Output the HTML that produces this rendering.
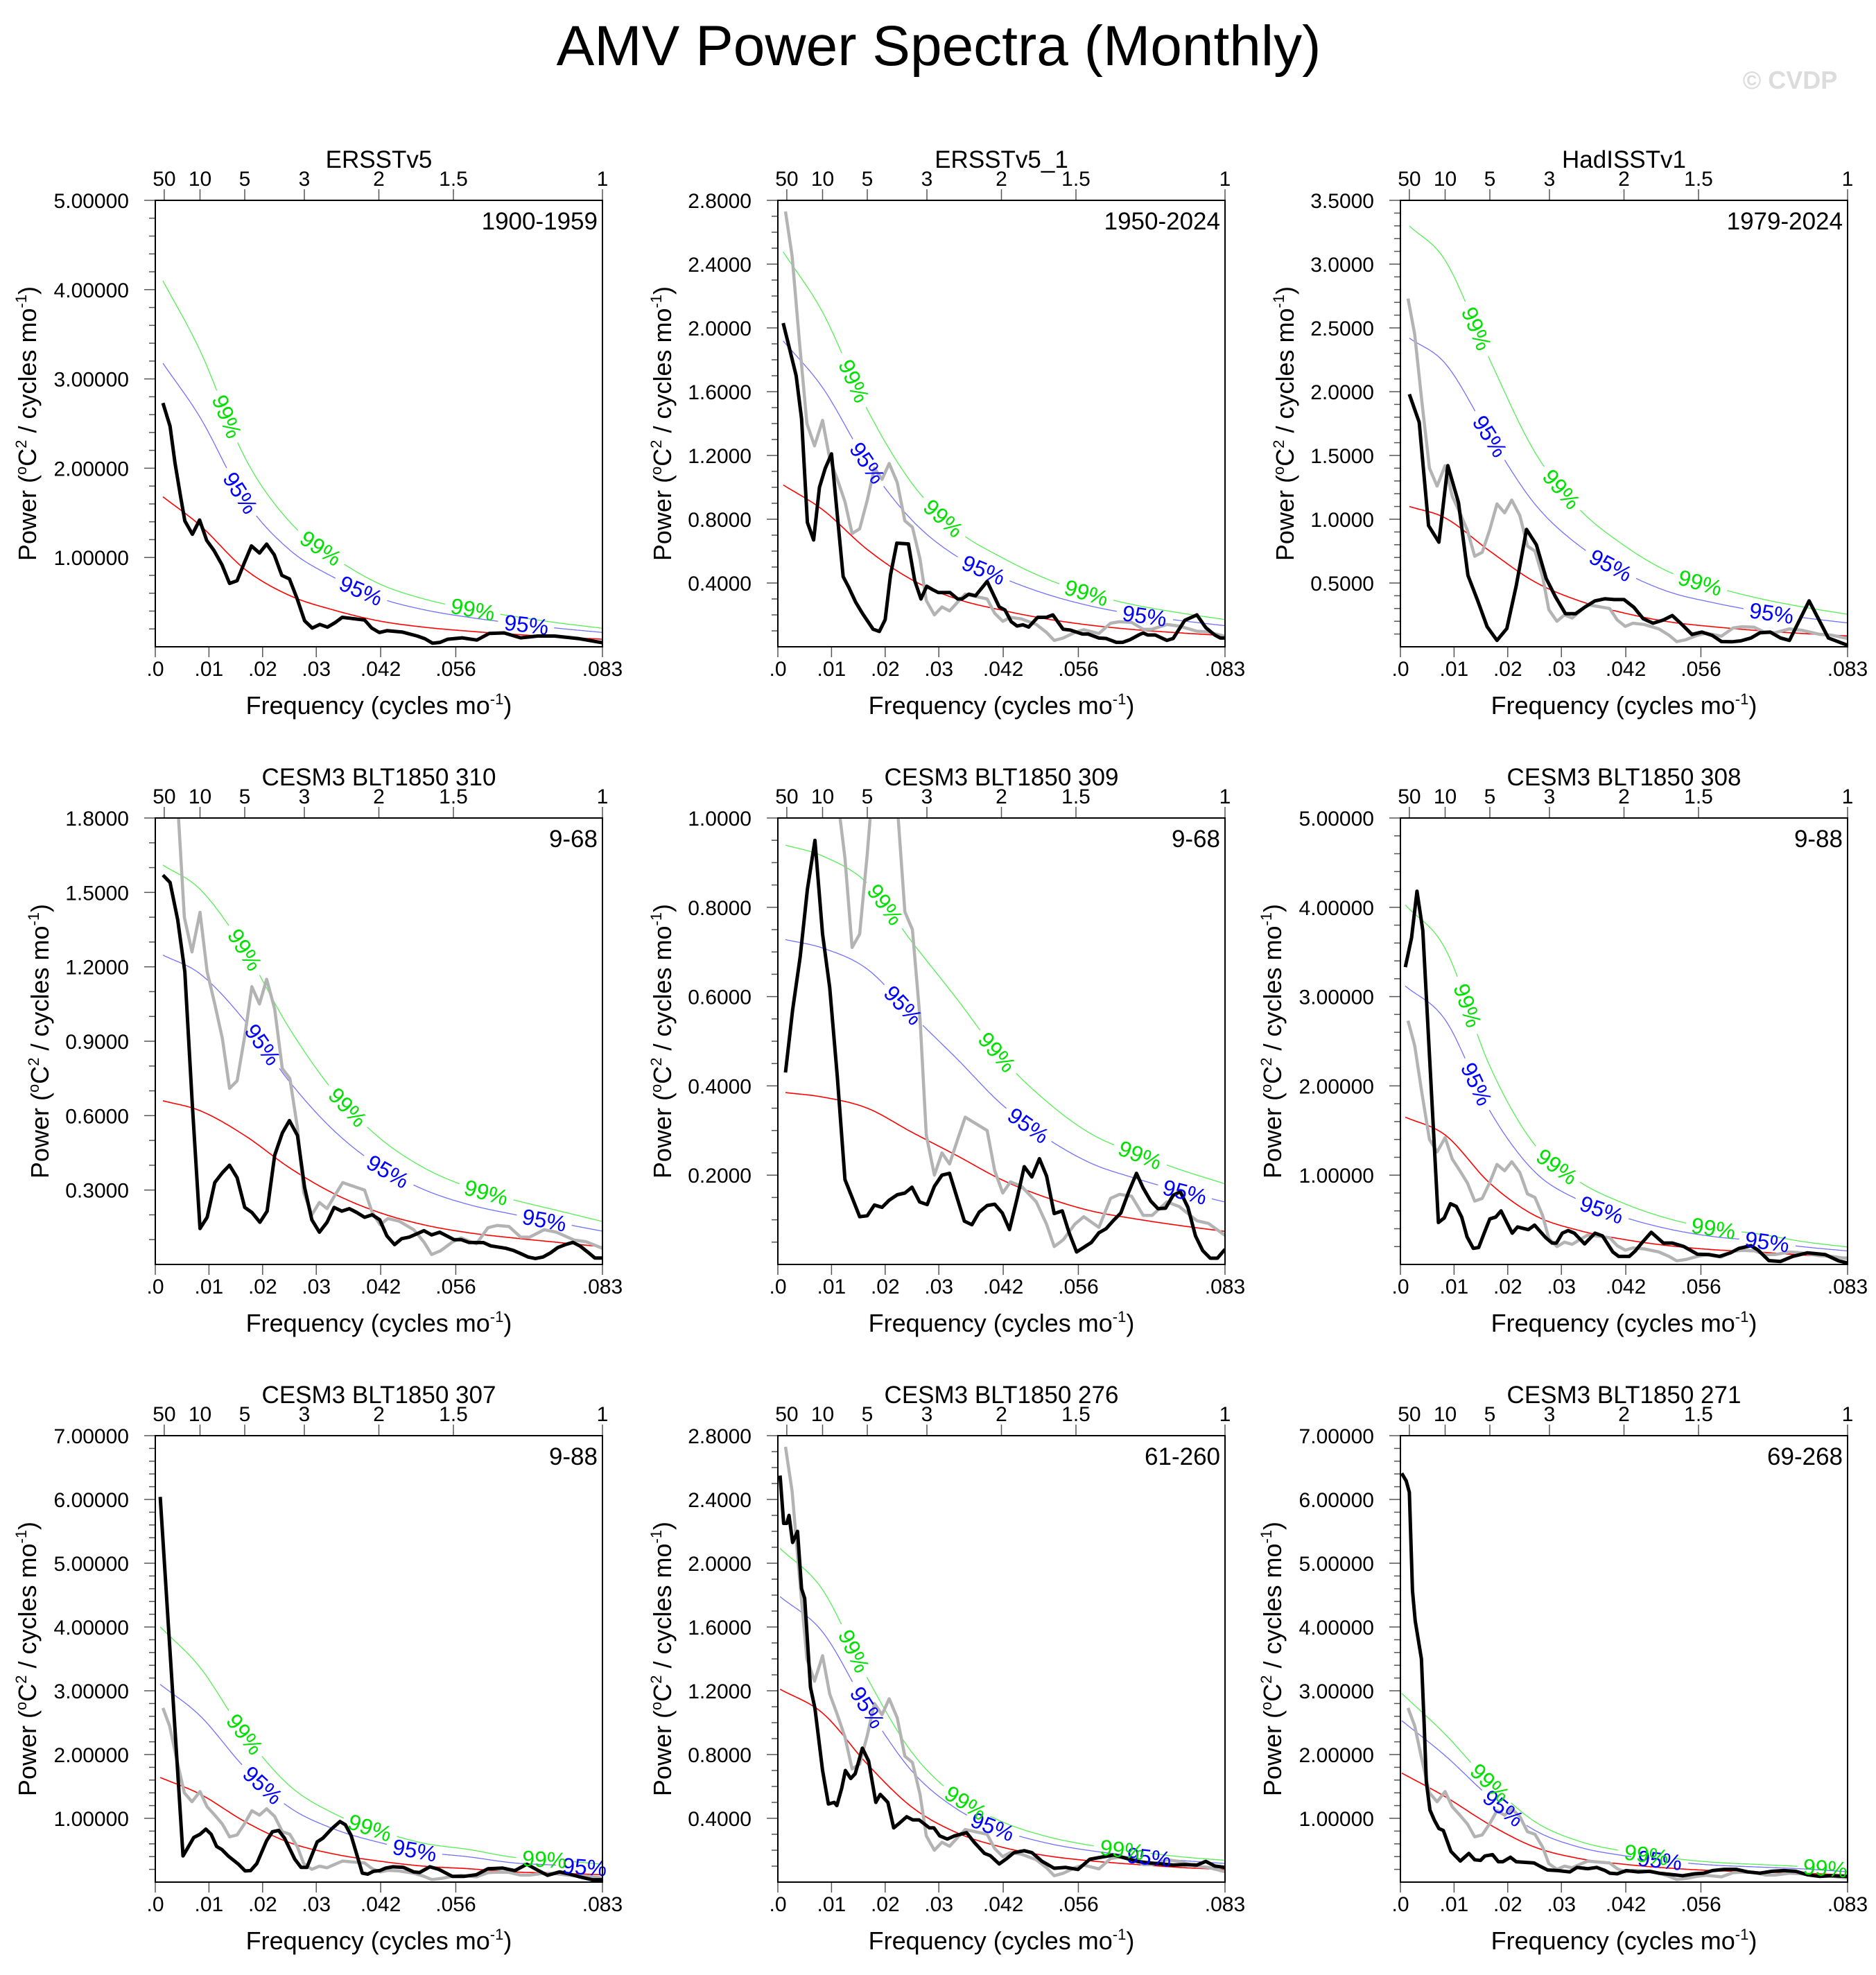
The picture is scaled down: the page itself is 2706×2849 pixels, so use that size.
<!DOCTYPE html>
<html><head><meta charset="utf-8"><title>AMV Power Spectra (Monthly)</title>
<style>
html,body{margin:0;padding:0;background:#fff;}
svg{display:block;font-family:"Liberation Sans",Arial,sans-serif;}
</style></head>
<body>
<svg id="chart" width="2706" height="2849" viewBox="0 0 2706 2849" xmlns="http://www.w3.org/2000/svg">
<rect x="0" y="0" width="2706" height="2849" fill="#fff"/>
<text x="1354" y="94" font-size="82" text-anchor="middle" fill="#000">AMV Power Spectra (Monthly)</text>
<text x="2582" y="128" font-size="36" font-weight="bold" text-anchor="middle" fill="#dcdcdc">© CVDP</text>
</svg>
<script>
// ---- Data (frequency in cycles per year: 0..1 == 0..0.0833 cycles/mo) ----
const panelTitles = ["ERSSTv5","ERSSTv5_1","HadISSTv1","CESM3 BLT1850 310","CESM3 BLT1850 309","CESM3 BLT1850 308","CESM3 BLT1850 307","CESM3 BLT1850 276","CESM3 BLT1850 271"];
const panelPeriods = ["1900-1959","1950-2024","1979-2024","9-68","9-68","9-88","9-88","61-260","69-268"];
const yMaxes = [5,2.8,3.5,1.8,1.0,5,7,2.8,7];
const yMajorSteps = [1,0.4,0.5,0.3,0.2,1,1,0.4,1];
const yMinorSteps = [0.2,0.1,0.1,0.1,0.05,0.2,0.2,0.1,0.2];
const yDecimals = [5,4,4,4,4,5,5,4,5];
const factor95 = [1.89,1.89,2.2,1.89,1.89,1.89,1.89,1.48,1.48];
const factor99 = [2.44,2.44,3.0,2.44,2.44,2.44,2.44,1.73,1.73];
const xTickValues = [0,0.01,0.02,0.03,0.042,0.056,0.08333];
const xTickLabels = [".0",".01",".02",".03",".042",".056",".083"];
const periodTicks = [50,10,5,3,2,1.5,1];

const grayF = [.017,.032,.048,.065,.082,.1,.116,.133,.15,.166,.183,.2,.216,.233,.249,.267,.284,.301,.318,.332,.35,.367,.384,.402,.419,.435,.468,.485,.503,.52,.545,.578,.601,.618,.638,.664,.684,.718,.744,.764,.791,.817,.837,.87,.897,.937,.963,1];
const grayV = [2.73,2.45,1.92,1.40,1.26,1.42,1.18,1.05,0.91,0.71,0.74,0.92,1.12,1.05,1.15,1.03,0.79,0.75,0.55,0.29,0.20,0.25,0.225,0.28,0.33,0.32,0.30,0.21,0.16,0.185,0.175,0.14,0.09,0.04,0.055,0.09,0.107,0.083,0.148,0.157,0.153,0.11,0.11,0.14,0.13,0.098,0.092,0.065];

const blackF1 = [.017,.033,.044,.056,.066,.083,.099,.115,.131,.149,.166,.183,.199,.215,.233,.249,.266,.283,.3,.317,.334,.351,.368,.385,.402,.418,.435,.468,.484,.501,.518,.552,.586,.603,.62,.637,.654,.686,.719,.747,.78,.817,.855,.893,.949,1];
const blackV1 = [2.73,2.47,2.06,1.70,1.41,1.26,1.42,1.19,1.08,0.92,0.71,0.74,0.94,1.13,1.05,1.15,1.03,0.80,0.76,0.54,0.29,0.21,0.25,0.22,0.27,0.33,0.32,0.30,0.21,0.16,0.18,0.165,0.12,0.09,0.04,0.05,0.085,0.10,0.075,0.15,0.155,0.10,0.12,0.12,0.09,0.045];
const blackF2 = [.012,.027,.041,.053,.066,.08,.093,.106,.12,.146,.159,.174,.189,.213,.227,.24,.252,.266,.292,.306,.32,.333,.345,.359,.385,.402,.412,.427,.442,.468,.495,.508,.522,.535,.548,.561,.581,.601,.615,.638,.654,.681,.694,.718,.734,.757,.771,.787,.807,.817,.827,.844,.87,.884,.91,.937,.957,.977,.99,1];
const blackV2 = [2.03,1.86,1.70,1.43,0.78,0.67,1.0,1.12,1.21,0.44,0.37,0.28,0.21,0.11,0.096,0.17,0.45,0.65,0.645,0.415,0.30,0.38,0.36,0.34,0.34,0.30,0.30,0.33,0.32,0.41,0.25,0.23,0.157,0.13,0.138,0.124,0.185,0.185,0.20,0.11,0.105,0.08,0.08,0.055,0.052,0.028,0.028,0.044,0.074,0.087,0.074,0.074,0.04,0.052,0.166,0.20,0.12,0.074,0.055,0.055];
const blackF3 = [.02,.042,.063,.086,.106,.13,.151,.173,.194,.216,.238,.259,.282,.304,.326,.347,.369,.392,.412,.435,.457,.478,.5,.522,.543,.565,.588,.608,.631,.652,.674,.698,.718,.741,.761,.784,.804,.827,.85,.87,.914,.957,1];
const blackV3 = [1.98,1.76,.95,.82,1.42,1.13,.56,.36,.157,.05,.143,.48,.92,.80,.535,.39,.26,.26,.31,.36,.376,.37,.37,.31,.22,.185,.21,.245,.17,.097,.115,.088,.041,.039,.046,.069,.11,.115,.069,.05,.36,.069,.012];
const blackF4 = [.017,.033,.05,.066,.083,.1,.116,.133,.15,.166,.183,.2,.216,.234,.25,.267,.284,.3,.318,.334,.35,.367,.384,.4,.417,.434,.45,.468,.485,.502,.518,.535,.551,.568,.601,.618,.636,.668,.684,.701,.734,.75,.784,.8,.817,.834,.85,.867,.884,.9,.917,.934,.95,.967,.983,1];
const blackV4 = [1.57,1.54,1.39,1.18,0.64,0.145,0.19,0.33,0.37,0.40,.35,.23,.21,.17,.215,.44,.53,.58,.52,.31,.18,.13,.17,.23,.215,.225,.21,.19,.2,.18,.115,.08,.104,.11,.136,.119,.13,.1,.1,.089,.088,.075,.065,.057,.044,.03,.024,.03,.047,.068,.08,.089,.074,.05,.026,.026];
const blackF5 = [.017,.033,.05,.066,.083,.1,.116,.133,.15,.166,.183,.2,.216,.233,.249,.267,.284,.3,.317,.334,.35,.367,.384,.4,.417,.434,.45,.468,.485,.502,.518,.535,.551,.568,.585,.601,.618,.636,.651,.668,.701,.718,.734,.751,.767,.784,.802,.817,.834,.85,.867,.884,.9,.917,.934,.95,.967,.983,1];
const blackV5 = [.43,.57,.69,.84,.95,.74,.62,.42,.19,.15,.107,.109,.133,.128,.144,.156,.16,.173,.14,.134,.175,.2,.204,.152,.097,.089,.117,.132,.135,.115,.078,.148,.219,.196,.237,.198,.114,.12,.072,.028,.049,.071,.08,.099,.115,.161,.204,.171,.142,.125,.126,.155,.163,.128,.064,.031,.014,.014,.034];
const blackF6 = [.011,.025,.037,.05,.085,.098,.112,.125,.137,.149,.163,.175,.188,.2,.213,.225,.238,.25,.262,.286,.3,.325,.339,.349,.362,.375,.389,.412,.435,.452,.475,.488,.512,.525,.538,.561,.588,.608,.634,.664,.691,.714,.738,.757,.784,.8,.824,.85,.877,.91,.95,.98,1];
const blackV6 = [3.33,3.66,4.18,3.74,.47,.52,.68,.65,.53,.31,.18,.19,.36,.51,.53,.6,.47,.35,.42,.39,.44,.30,.24,.24,.35,.38,.35,.23,.35,.32,.14,.09,.09,.15,.23,.36,.24,.24,.2,.115,.11,.09,.13,.18,.21,.16,.043,.033,.09,.13,.11,.04,.016];
const blackF7 = [.011,.062,.086,.1,.113,.125,.137,.149,.163,.186,.201,.213,.227,.249,.262,.276,.289,.312,.326,.339,.362,.375,.395,.413,.425,.438,.463,.475,.488,.502,.515,.531,.555,.578,.591,.614,.634,.664,.691,.718,.744,.777,.804,.831,.857,.877,.904,.924,.95,.977,1];
const blackV7 = [6.04,.41,.70,.75,.83,.75,.56,.51,.41,.28,.175,.18,.29,.65,.79,.81,.69,.36,.23,.23,.63,.69,.84,.95,.90,.73,.14,.125,.17,.18,.22,.24,.23,.16,.15,.24,.2,.09,.09,.115,.21,.22,.18,.28,.18,.106,.16,.13,.08,.037,.037];
const blackF8 = [.005,.013,.02,.025,.033,.044,.053,.06,.073,.083,.1,.113,.126,.132,.143,.151,.163,.173,.179,.189,.203,.219,.229,.246,.259,.272,.288,.302,.316,.339,.349,.362,.379,.395,.422,.439,.462,.475,.495,.512,.528,.551,.568,.591,.618,.644,.671,.698,.724,.751,.777,.804,.831,.857,.884,.91,.937,.957,.977,1];
const blackV8 = [2.55,2.25,2.25,2.30,2.13,2.2,1.84,1.78,1.22,1.09,.70,.49,.50,.48,.59,.70,.65,.68,.74,.84,.76,.50,.55,.50,.34,.37,.41,.39,.39,.34,.34,.29,.27,.29,.31,.25,.18,.166,.114,.148,.185,.197,.185,.13,.087,.092,.079,.144,.157,.17,.151,.13,.12,.114,.107,.11,.107,.13,.101,.092];
const blackF9 = [.003,.013,.02,.027,.033,.047,.053,.058,.066,.076,.086,.096,.113,.134,.153,.166,.179,.189,.206,.219,.229,.246,.259,.279,.299,.312,.329,.352,.379,.395,.419,.439,.458,.468,.485,.505,.532,.558,.578,.605,.631,.658,.678,.698,.724,.751,.777,.804,.831,.857,.884,.91,.937,.963,1];
const blackV9 = [6.41,6.29,6.11,4.57,4.10,3.50,2.49,1.57,1.13,.97,.84,.81,.48,.33,.45,.35,.34,.41,.43,.32,.32,.39,.32,.31,.30,.25,.19,.18,.16,.23,.21,.23,.18,.14,.13,.18,.16,.17,.14,.12,.10,.13,.14,.18,.2,.2,.16,.14,.17,.18,.17,.115,.09,.1,.09];

const redStartF = [.017,.012,.02,.017,.017,.011,.011,.005,.003];
const redGridF = [.1,.2,.3,.4,.5,.6,.7,.8,.9,1];
const redV1 = [1.68,1.36,0.87,0.575,0.41,0.29,0.22,0.175,0.14,0.11,0.085];
const redV2 = [1.015,0.86,0.61,0.42,0.30,0.23,0.175,0.135,0.107,0.087,0.07];
const redV3 = [1.10,1.01,0.75,0.51,0.36,0.265,0.196,0.157,0.127,0.104,0.085];
const redV4 = [0.66,0.62,0.52,0.39,0.285,0.21,0.16,0.128,0.107,0.089,0.071];
const redV5 = [0.385,0.375,0.35,0.296,0.244,0.19,0.15,0.12,0.102,0.087,0.074];
const redV6 = [1.65,1.45,0.91,0.55,0.38,0.28,0.21,0.165,0.14,0.105,0.08];
const redV7 = [1.64,1.38,0.95,0.62,0.44,0.33,0.25,0.21,0.16,0.14,0.115];
const redV8 = [1.21,1.06,0.74,0.47,0.31,0.22,0.166,0.133,0.111,0.092,0.079];
const redV9 = [1.71,1.34,0.90,0.55,0.37,0.28,0.22,0.18,0.16,0.14,0.11];

const blackFs = [blackF1,blackF2,blackF3,blackF4,blackF5,blackF6,blackF7,blackF8,blackF9];
const blackVs = [blackV1,blackV2,blackV3,blackV4,blackV5,blackV6,blackV7,blackV8,blackV9];
const redVs = [redV1,redV2,redV3,redV4,redV5,redV6,redV7,redV8,redV9];

const lab99 = [[.16,.37,.71],[.17,.37,.69],[.17,.36,.67],[.2,.43,.74],[.24,.49,.81],[.15,.35,.7],[.2,.48,.87],[.17,.42,.77],[.2,.55,.95]];
const lab95 = [[.19,.46,.83],[.2,.46,.82],[.2,.47,.83],[.24,.52,.87],[.28,.56,.91],[.17,.45,.82],[.24,.58,.96],[.2,.48,.83],[.23,.58]];

const NS = "http://www.w3.org/2000/svg";
const svg = document.getElementById("chart");
const colLeft = [224,1122,2020];
const rowTop = [289,1180,2071];
const PW = 645, PH = 644;

function el(tag, attrs, parent){
  const e = document.createElementNS(NS, tag);
  for (const k in attrs) e.setAttribute(k, attrs[k]);
  (parent||svg).appendChild(e);
  return e;
}

function monotone(xs, ys){
  const n = xs.length, d = [], m = [];
  for (let i=0;i<n-1;i++) d.push((ys[i+1]-ys[i])/(xs[i+1]-xs[i]));
  m.push(d[0]);
  for (let i=1;i<n-1;i++) m.push(d[i-1]*d[i]<=0 ? 0 : (d[i-1]+d[i])/2);
  m.push(d[n-2]);
  for (let i=0;i<n-1;i++){
    if (d[i]===0){ m[i]=0; m[i+1]=0; continue; }
    const a=m[i]/d[i], b=m[i+1]/d[i], s=a*a+b*b;
    if (s>9){ const t=3/Math.sqrt(s); m[i]=t*a*d[i]; m[i+1]=t*b*d[i]; }
  }
  return function(x){
    if (x<=xs[0]) return ys[0];
    if (x>=xs[n-1]) return ys[n-1];
    let i=0; while (x>xs[i+1]) i++;
    const h=xs[i+1]-xs[i], t=(x-xs[i])/h, t2=t*t, t3=t2*t;
    return (2*t3-3*t2+1)*ys[i]+(t3-2*t2+t)*h*m[i]+(-2*t3+3*t2)*ys[i+1]+(t3-t2)*h*m[i+1];
  };
}

for (let p=0;p<9;p++){
  const L = colLeft[p%3], T = rowTop[Math.floor(p/3)];
  const ymax = yMaxes[p];
  const xS = f => L + f*PW;
  const yS = v => T + PH - v/ymax*PH;
  const g = el("g", {});
  
  

  const cid = "clip"+p;
  const cp = el("clipPath", {id:cid}, g);
  el("rect", {x:L, y:T, width:PW, height:PH}, cp);

  const tt = el("text", {x:L+PW/2, y:T-47, "font-size":35, "text-anchor":"middle", fill:"#000"}, g);
  
  
  tt.textContent = panelTitles[p];
  const pr = el("text", {x:L+PW-7, y:T+42, "font-size":35, "text-anchor":"end", fill:"#000"}, g);
  
  
  pr.textContent = panelPeriods[p];

  const minorN = Math.round(ymax / yMinorSteps[p]);
  for (let i=1;i<=minorN;i++){
    const v = i*yMinorSteps[p], y = yS(v);
    const major = Math.abs(v/yMajorSteps[p] - Math.round(v/yMajorSteps[p])) < 1e-6;
    el("line", {x1:L-(major?16:9), y1:y, x2:L, y2:y, stroke:"#555", "stroke-width":1.5}, g);
    if (major){
      const t = el("text", {x:L-38, y:y+11, "font-size":30, "text-anchor":"end", fill:"#000"}, g);
      
      
      t.textContent = v.toFixed(yDecimals[p]);
    }
  }
  for (let i=0;i<xTickValues.length;i++){
    const x = xS(xTickValues[i]*12);
    el("line", {x1:x, y1:T+PH, x2:x, y2:T+PH+15, stroke:"#555", "stroke-width":1.5}, g);
    const t = el("text", {x:x, y:T+PH+42, "font-size":30, "text-anchor":"middle", fill:"#000"}, g);
    
    
    t.textContent = xTickLabels[i];
  }
  for (let i=0;i<periodTicks.length;i++){
    const x = xS(1/periodTicks[i]);
    el("line", {x1:x, y1:T-16, x2:x, y2:T, stroke:"#555", "stroke-width":1.5}, g);
    const t = el("text", {x:x, y:T-21, "font-size":30, "text-anchor":"middle", fill:"#000"}, g);
    
    
    t.textContent = String(periodTicks[i]);
  }
  const xt = el("text", {x:L+PW/2, y:T+PH+97, "font-size":36, "text-anchor":"middle", fill:"#000"}, g);
  
  
  xt.innerHTML = 'Frequency (cycles mo<tspan dy="-14" font-size="22">-1</tspan><tspan dy="14">)</tspan>';
  const yx = L - (yDecimals[p]===5 ? 172 : 154), yy = T+PH/2;
  const yt = el("text", {x:yx, y:yy, "font-size":36, "text-anchor":"middle", fill:"#000", transform:`rotate(-90 ${yx} ${yy})`}, g);
  
  
  yt.innerHTML = 'Power (<tspan dy="-14" font-size="22">o</tspan><tspan dy="14">C</tspan><tspan dy="-14" font-size="22">2</tspan><tspan dy="14"> / cycles mo</tspan><tspan dy="-14" font-size="22">-1</tspan><tspan dy="14">)</tspan>';

  const plot = el("g", {"clip-path":`url(#${cid})`}, g);

  const rF = [redStartF[p]].concat(redGridF);
  const rI = monotone(rF, redVs[p]);
  const curves = [
    {fac:1, color:"#ff0000", w:1.6, name:"red-noise-curve", labs:[], txt:""},
    {fac:factor95[p], color:"#7070ff", w:1.3, name:"conf95-curve", labs:lab95[p], txt:"95%", tc:"#0000ff"},
    {fac:factor99[p], color:"#55ee55", w:1.3, name:"conf99-curve", labs:lab99[p], txt:"99%", tc:"#00e000"}
  ];
  curves.forEach(c=>{
    const pts = [];
    for (let k=0;k<=400;k++){
      const f = rF[0] + (1-rF[0])*k/400;
      pts.push([xS(f), yS(rI(f)*c.fac)]);
    }
    const labPts = c.labs.map(fr=>{
      const f0 = Math.max(fr, rF[0]);
      const x = xS(f0), y = yS(rI(f0)*c.fac);
      const x2 = xS(f0+0.01), y2 = yS(rI(f0+0.01)*c.fac);
      return {x, y, ang: Math.atan2(y2-y, x2-x)*180/Math.PI};
    });
    let d = "", pen = false;
    pts.forEach(pt=>{
      const hidden = labPts.some(lp=>Math.hypot(pt[0]-lp.x, pt[1]-lp.y) < 40);
      if (hidden){ pen=false; return; }
      d += (pen ? "L" : "M") + pt[0].toFixed(1) + " " + pt[1].toFixed(1);
      pen = true;
    });
    const path = el("path", {d, fill:"none", stroke:c.color, "stroke-width":c.w}, plot);
    
    
    labPts.forEach(lp=>{
      const t = el("text", {x:lp.x, y:lp.y+11, "font-size":32, "text-anchor":"middle", fill:c.tc, transform:`rotate(${lp.ang.toFixed(1)} ${lp.x.toFixed(1)} ${lp.y.toFixed(1)})`}, g);
      
      
      t.textContent = c.txt;
    });
  });

  if (p>0){
    const d = grayF.map((f,i)=>(i?"L":"M")+xS(f).toFixed(1)+" "+yS(grayV[i]).toFixed(1)).join("");
    const gp = el("path", {d, fill:"none", stroke:"#b3b3b3", "stroke-width":4.5, "stroke-linejoin":"round"}, plot);
    
    
  }
  const bF = blackFs[p], bV = blackVs[p];
  const n = Math.min(bF.length, bV.length);
  let d = "";
  for (let i=0;i<n;i++) d += (i?"L":"M")+xS(bF[i]).toFixed(1)+" "+yS(bV[i]).toFixed(1);
  const bp = el("path", {d, fill:"none", stroke:"#000", "stroke-width":5, "stroke-linejoin":"round"}, plot);
  
  

  const fr = el("rect", {x:L, y:T, width:PW, height:PH, fill:"none", stroke:"#000", "stroke-width":2}, g);
  
  
}
</script>
</body></html>
